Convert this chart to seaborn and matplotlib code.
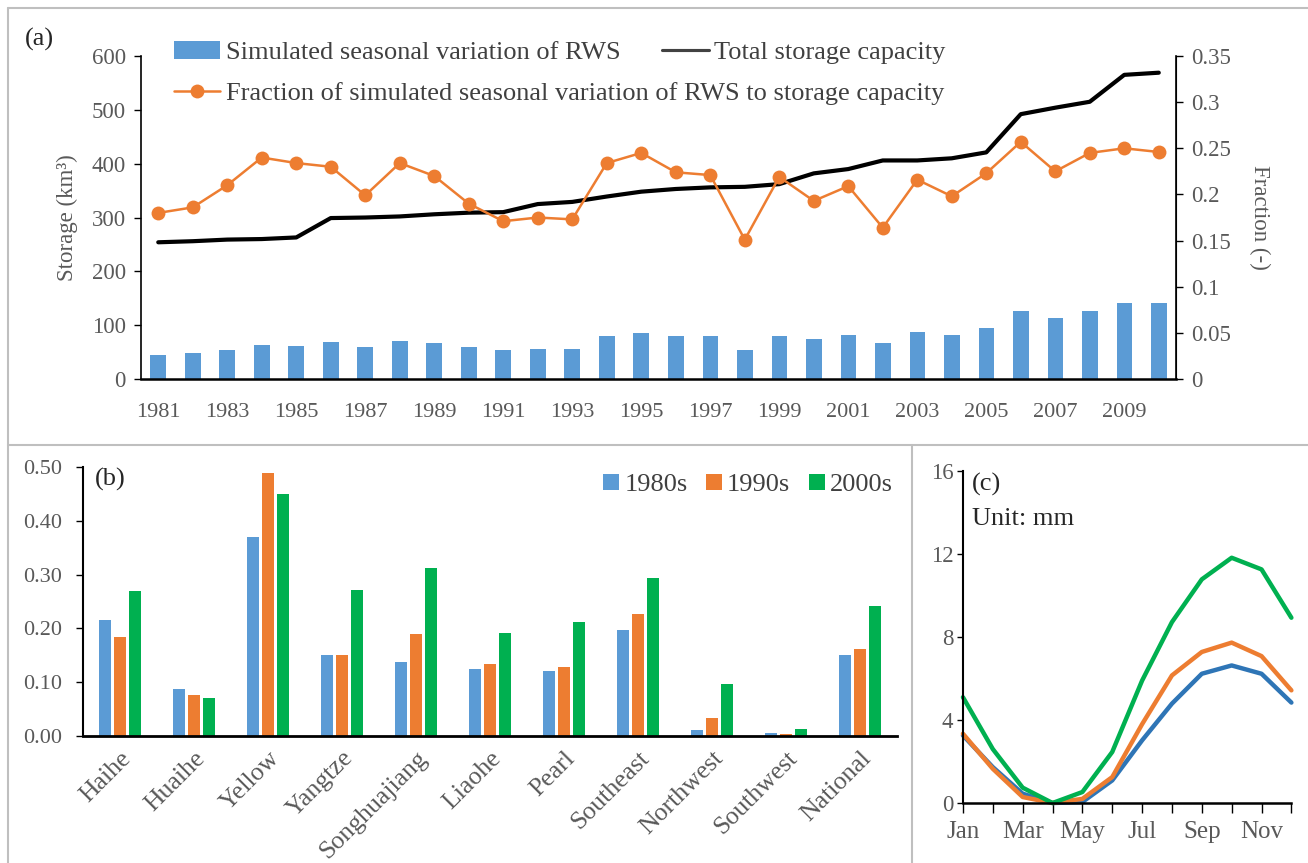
import numpy as np
import pandas as pd
import matplotlib
matplotlib.use("Agg")
import matplotlib.pyplot as plt
from matplotlib.lines import Line2D
import seaborn as sns

# panel (a) - annual series
years = list(range(1981, 2011))
rws = [45, 48, 54, 63, 62, 69, 60, 71, 67, 59, 53, 56, 56, 80, 85, 80,
       79, 54, 80, 74, 82, 66, 88, 82, 94, 126, 114, 126, 141, 141]
capacity = [254, 256, 259, 260, 263, 299, 300, 302, 306, 309, 310, 325, 329, 339, 348, 353,
            356, 357, 362, 382, 390, 406, 406, 410, 421, 492, 504, 515, 565, 569]
fraction = [0.180, 0.186, 0.210, 0.240, 0.234, 0.230, 0.199, 0.234, 0.220, 0.190, 0.171,
            0.175, 0.173, 0.234, 0.245, 0.224, 0.221, 0.151, 0.219, 0.193, 0.209, 0.164,
            0.216, 0.198, 0.223, 0.257, 0.225, 0.245, 0.250, 0.246]

# panel (b) - fraction by basin and decade
regions = ['Haihe', 'Huaihe', 'Yellow', 'Yangtze', 'Songhuajiang', 'Liaohe', 'Pearl',
           'Southeast', 'Northwest', 'Southwest', 'National']
decades = ['1980s', '1990s', '2000s']
frac_1980s = [0.215, 0.087, 0.369, 0.151, 0.138, 0.124, 0.120, 0.197, 0.012, 0.006, 0.151]
frac_1990s = [0.184, 0.077, 0.488, 0.151, 0.190, 0.134, 0.128, 0.226, 0.034, 0.004, 0.161]
frac_2000s = [0.269, 0.071, 0.449, 0.271, 0.312, 0.192, 0.211, 0.294, 0.097, 0.013, 0.241]

# panel (c) - monthly cycle (mm)
months = ['Jan', 'Feb', 'Mar', 'Apr', 'May', 'Jun', 'Jul', 'Aug', 'Sep', 'Oct', 'Nov', 'Dec']
mm_1980s = [3.26, 1.73, 0.45, 0.0, 0.05, 1.09, 3.02, 4.79, 6.23, 6.63, 6.23, 4.84]
mm_1990s = [3.34, 1.65, 0.29, 0.0, 0.20, 1.25, 3.80, 6.15, 7.28, 7.73, 7.08, 5.43]
mm_2000s = [5.10, 2.60, 0.74, 0.0, 0.53, 2.46, 5.90, 8.72, 10.78, 11.82, 11.26, 8.93]

blue, orange, green = '#5B9BD5', '#ED7D31', '#00B050'
grey_txt = '#595959'

sns.set_style('white')
plt.rcParams['font.family'] = ['Liberation Serif', 'DejaVu Serif']

fig = plt.figure(figsize=(13.08, 8.63), dpi=100)
ax_a = fig.add_axes([0.1078, 0.5608, 0.7913, 0.3743])
ax_b = fig.add_axes([0.0635, 0.1472, 0.6223, 0.3117])
ax_c = fig.add_axes([0.7362, 0.0695, 0.2511, 0.3847])

# panel borders
for xs, ys in [([0.0061, 1.0], [0.9907, 0.9907]), ([0.0061, 0.0061], [0.0, 0.9907]),
               ([0.0061, 1.0], [0.4844, 0.4844]), ([0.6972, 0.6972], [0.0, 0.4844])]:
    fig.add_artist(Line2D(xs, ys, transform=fig.transFigure, color='#BFBFBF', lw=1.5))

# ---- (a)
df_a = pd.DataFrame({'year': years, 'rws': rws, 'cap': capacity, 'frac': fraction,
                     'pos': np.arange(len(years))})
sns.barplot(data=df_a, x='pos', y='rws', color=blue, width=0.45, ax=ax_a,
            linewidth=0, saturation=1)
sns.lineplot(data=df_a, x='pos', y='cap', color='black', linewidth=3, ax=ax_a)
ax2 = ax_a.twinx()
sns.lineplot(data=df_a, x='pos', y='frac', color=orange, linewidth=1.8, marker='o',
             markersize=10, markeredgewidth=0, ax=ax2)
ax_a.set_xlim(-0.5, len(years) - 0.5)
ax_a.set_ylim(0, 600)
ax2.set_ylim(0, 0.35)
ax_a.set_yticks(range(0, 601, 100))
ax2.set_yticks(np.arange(0, 0.351, 0.05))
ax2.set_yticklabels([f'{v:g}' for v in np.arange(0, 0.351, 0.05).round(2)])
ax_a.set_xticks(range(0, len(years), 2))
ax_a.set_xticklabels(years[::2])
ax_a.tick_params(axis='x', length=0, pad=17, labelsize=16, labelcolor=grey_txt)
ax_a.tick_params(axis='y', direction='out', length=5, width=1, color='black', left=True,
                 labelsize=16.5, labelcolor=grey_txt, pad=6)
ax2.tick_params(axis='y', direction='out', length=5, width=1, color='black', right=True,
                labelsize=16.5, labelcolor=grey_txt, pad=6)
ax_a.set_xlabel('')
ax_a.set_ylabel('Storage (km³)', fontsize=16.5, color=grey_txt, labelpad=10)
ax2.set_ylabel('Fraction (-)', fontsize=16.5, color=grey_txt, rotation=270, labelpad=28)
for ax in (ax_a, ax2):
    ax.spines['top'].set_visible(False)
    for s in ('left', 'right', 'bottom'):
        ax.spines[s].set_color('black')
ax_a.spines['bottom'].set_linewidth(1.8)
ax_a.spines['left'].set_linewidth(1.2)
ax2.spines['right'].set_linewidth(1.2)
ax2.spines['left'].set_visible(False)
ax2.spines['bottom'].set_visible(False)

bar_h = ax_a.containers[0]
cap_h = ax_a.lines[0]
frac_h = ax2.lines[0]
leg1 = fig.legend([bar_h, cap_h], ['Simulated seasonal variation of RWS', 'Total storage capacity'],
                  loc='upper left', bbox_to_anchor=(0.123, 0.968), ncol=2, frameon=False,
                  fontsize=19, handlelength=1.75, handletextpad=0.2, columnspacing=1.6,
                  borderpad=0, labelcolor='#404040')
leg2 = fig.legend([frac_h], ['Fraction of simulated seasonal variation of RWS to storage capacity'],
                  loc='upper left', bbox_to_anchor=(0.123, 0.921), frameon=False,
                  fontsize=19, handlelength=1.75, handletextpad=0.2, borderpad=0,
                  labelcolor='#404040')
fig.text(0.019, 0.968, '(a)', fontsize=19, va='top', ha='left')

# ---- (b)
df_b = pd.DataFrame({'region': regions * 3,
                     'decade': np.repeat(decades, len(regions)),
                     'value': frac_1980s + frac_1990s + frac_2000s})
sns.barplot(data=df_b, x='region', y='value', hue='decade', palette=[blue, orange, green],
            width=0.6, gap=0.2, saturation=1, linewidth=0, ax=ax_b)
ax_b.set_ylim(0, 0.5)
ax_b.set_xlim(-0.5, len(regions) - 0.5)
ax_b.set_yticks(np.arange(0, 0.51, 0.1))
ax_b.set_yticklabels([f'{v:.2f}' for v in np.arange(0, 0.51, 0.1)])
ax_b.tick_params(axis='y', direction='out', length=5, width=1, color='black', left=True,
                 labelsize=16, labelcolor=grey_txt, pad=10)
ax_b.tick_params(axis='x', length=0, pad=8, labelsize=18.5, labelcolor=grey_txt)
plt.setp(ax_b.get_xticklabels(), rotation=45, ha='right', rotation_mode='anchor')
ax_b.set_xlabel('')
ax_b.set_ylabel('')
ax_b.spines['top'].set_visible(False)
ax_b.spines['right'].set_visible(False)
ax_b.spines['left'].set_color('black')
ax_b.spines['bottom'].set_color('black')
ax_b.spines['bottom'].set_linewidth(2)
ax_b.spines['left'].set_linewidth(1.5)
ax_b.legend(loc='upper right', bbox_to_anchor=(0.995, 0.975), ncol=3, frameon=False, fontsize=19,
            handlelength=0.6, handleheight=0.6, handletextpad=0.2, columnspacing=0.7,
            borderaxespad=0, borderpad=0, labelcolor='#404040', title=None)
ax_b.text(0.015, 0.995, '(b)', transform=ax_b.transAxes, fontsize=19, va='top', ha='left')

# ---- (c)
df_c = pd.DataFrame({'month': list(range(12)) * 3,
                     'decade': np.repeat(decades, 12),
                     'mm': mm_1980s + mm_1990s + mm_2000s})
sns.lineplot(data=df_c, x='month', y='mm', hue='decade', palette=['#2E75B6', orange, green],
             linewidth=3.2, legend=False, ax=ax_c, clip_on=False)
ax_c.set_xlim(0, 11)
ax_c.set_ylim(0, 16)
ax_c.set_yticks([0, 4, 8, 12, 16])
ax_c.set_xticks(range(12))
ax_c.set_xticklabels([m if i % 2 == 0 else '' for i, m in enumerate(months)])
ax_c.tick_params(axis='x', direction='out', length=7, width=1, color='black', bottom=True,
                 labelsize=18, labelcolor=grey_txt, pad=6)
ax_c.tick_params(axis='y', direction='out', length=4, width=1, color='black', left=True,
                 labelsize=16.5, labelcolor=grey_txt, pad=3)
ax_c.set_xlabel('')
ax_c.set_ylabel('')
ax_c.spines['top'].set_visible(False)
ax_c.spines['right'].set_visible(False)
ax_c.spines['left'].set_color('black')
ax_c.spines['bottom'].set_color('black')
ax_c.spines['bottom'].set_linewidth(1.8)
ax_c.spines['left'].set_linewidth(1.5)
ax_c.text(0.027, 0.995, '(c)', transform=ax_c.transAxes, fontsize=19, va='top', ha='left')
ax_c.text(0.027, 0.89, 'Unit: mm', transform=ax_c.transAxes, fontsize=19, va='top', ha='left')

fig.savefig('out.png', dpi=100)
